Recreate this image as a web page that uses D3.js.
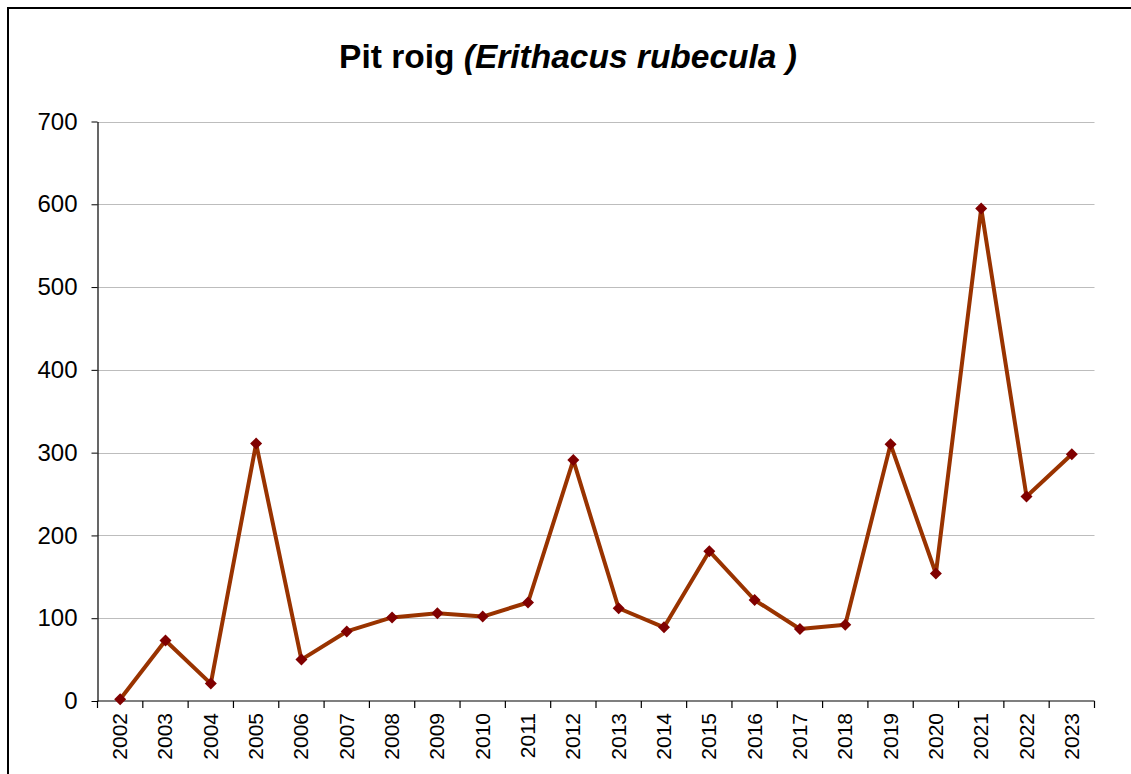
<!DOCTYPE html>
<html>
<head>
<meta charset="utf-8">
<script src="https://cdn.jsdelivr.net/npm/d3@7"></script>
<style>
  html, body { margin: 0; padding: 0; background: #fff; }
  svg { display: block; }
</style>
</head>
<body>
<svg id="chart" width="1131" height="774"></svg>
<script>
const years = ["2002","2003","2004","2005","2006","2007","2008","2009","2010","2011","2012","2013","2014","2015","2016","2017","2018","2019","2020","2021","2022","2023"];
const counts = [2, 73, 21, 311, 50, 84, 101, 106, 102, 119, 291, 112, 89, 181, 122, 87, 92, 310, 154, 595, 247, 298];
const yTicks = [0, 100, 200, 300, 400, 500, 600, 700];
const titleMain = "Pit roig ";
const titleItalic = "(Erithacus rubecula )";

const svg = d3.select("#chart");
const font = "'Liberation Sans', Arial, sans-serif";

// outer frame (top and left edges visible)
svg.append("path")
  .attr("d", "M8,775 L8,8 L1131,8")
  .attr("fill", "none").attr("stroke", "#000").attr("stroke-width", 2);

const m = { left: 97.5, right: 1094.5, top: 121.5, bottom: 701 };

const x = d3.scaleBand().domain(years).range([m.left, m.right]).paddingInner(0).paddingOuter(0);
const y = d3.scaleLinear().domain([0, 700]).range([m.bottom, m.top]);

// gridlines
svg.append("g").selectAll("line").data(yTicks.filter(d => d > 0)).join("line")
  .attr("x1", m.left).attr("x2", m.right)
  .attr("y1", d => Math.round(y(d)) + 0.5).attr("y2", d => Math.round(y(d)) + 0.5)
  .attr("stroke", "#bdbdbd").attr("stroke-width", 1);

// y axis
const yAxis = d3.axisLeft(y).tickValues(yTicks).tickSize(6).tickPadding(14).tickSizeOuter(0);
const gy = svg.append("g").attr("transform", `translate(${m.left},0)`).call(yAxis);
gy.select(".domain").attr("stroke", "#000").attr("stroke-width", 1.2);
gy.selectAll(".tick line").attr("stroke", "#000");
gy.selectAll("text").attr("font-family", font).attr("font-size", 24).attr("fill", "#000");

// x axis with ticks at category boundaries
const gx = svg.append("g").attr("transform", `translate(0,${m.bottom})`);
gx.append("line").attr("x1", m.left).attr("x2", m.right).attr("y1", 0).attr("y2", 0)
  .attr("stroke", "#000").attr("stroke-width", 1.2);
const bounds = years.map(d => x(d)).concat([m.right]);
gx.selectAll("line.tk").data(bounds).join("line").attr("class", "tk")
  .attr("x1", d => d).attr("x2", d => d).attr("y1", 0).attr("y2", 7)
  .attr("stroke", "#000").attr("stroke-width", 1.2);
gx.selectAll("text").data(years).join("text")
  .attr("transform", d => `translate(${x(d) + x.bandwidth() / 2 + 7},${12}) rotate(-90)`)
  .attr("text-anchor", "end")
  .attr("font-family", font).attr("font-size", 21).attr("fill", "#000")
  .text(d => d);

// line
const line = d3.line().x((d, i) => x(years[i]) + x.bandwidth() / 2).y(d => y(d));
svg.append("path").datum(counts)
  .attr("d", line).attr("fill", "none")
  .attr("stroke", "#993300").attr("stroke-width", 4).attr("stroke-linejoin", "round");

// diamond markers
svg.append("g").selectAll("path").data(counts).join("path")
  .attr("transform", (d, i) => `translate(${x(years[i]) + x.bandwidth() / 2},${y(d)})`)
  .attr("d", "M0,-6 L6,0 L0,6 L-6,0 Z")
  .attr("fill", "#800000");

// title
const t = svg.append("text").attr("x", 568).attr("y", 68).attr("text-anchor", "middle")
  .attr("font-family", font).attr("font-size", 33.5).attr("font-weight", "bold").attr("fill", "#000");
t.append("tspan").text(titleMain);
t.append("tspan").attr("font-style", "italic").text(titleItalic);
</script>
</body>
</html>
